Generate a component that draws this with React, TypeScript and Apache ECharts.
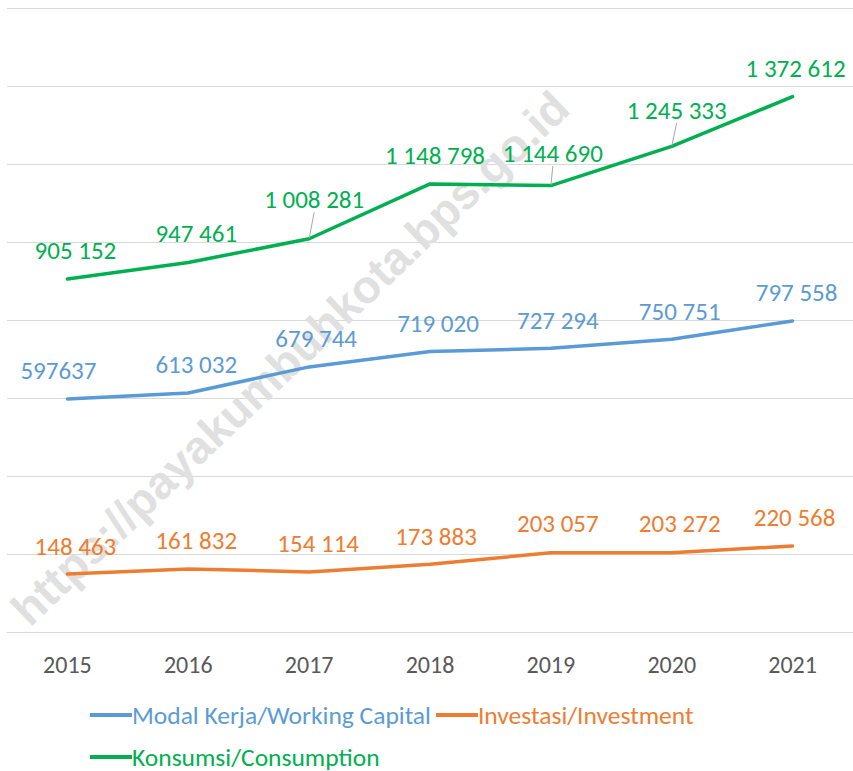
import React, { useEffect, useRef } from "react";
import * as echarts from "echarts";

const years = ["2015", "2016", "2017", "2018", "2019", "2020", "2021"];
const modalKerja = [597637, 613032, 679744, 719020, 727294, 750751, 797558];
const investasi = [148463, 161832, 154114, 173883, 203057, 203272, 220568];
const konsumsi = [905152, 947461, 1008281, 1148798, 1144690, 1245333, 1372612];

const modalLabels = ["597637", "613 032", "679 744", "719 020", "727 294", "750 751", "797 558"];
const investasiLabels = ["148 463", "161 832", "154 114", "173 883", "203 057", "203 272", "220 568"];
const konsumsiLabels = ["905 152", "947 461", "1 008 281", "1 148 798", "1 144 690", "1 245 333", "1 372 612"];

// label offsets (dx, extra dy) per point
const modalOffsets = [[-9, 0], [8, 0], [7, 0], [8, 0], [7, 0], [8, 0], [4, 0]];
const investasiOffsets = [[8, 0], [8, 0], [9, 0], [6, 0], [7, -1], [8, -1], [2, 0]];
const konsumsiOffsets = [[8, 0], [8, -1], [5, -11], [5, 0], [2, -4], [5, -8], [3, 0]];
const konsumsiLeader = [false, false, true, false, true, true, false];

const BLUE = "#5B9BD5";
const ORANGE = "#ED7D31";
const GREEN = "#00B050";
const FONT = "Carlito, 'Noto Sans', sans-serif";

export default function App() {
  const ref = useRef<HTMLDivElement>(null);
  useEffect(() => {
    if (!ref.current) return;
    const chart = echarts.init(ref.current, undefined, { renderer: "svg" });
    const offsets = [modalOffsets, investasiOffsets, konsumsiOffsets];
    const makeData = (vals: number[], labels: string[], leader?: boolean[]) =>
      vals.map((v, i) => ({
        value: v,
        label: { formatter: labels[i] },
        labelLine: { show: leader ? leader[i] : false },
      }));
    const series = [
      { name: "Modal Kerja/Working Capital", color: BLUE, data: makeData(modalKerja, modalLabels) },
      { name: "Investasi/Investment", color: ORANGE, data: makeData(investasi, investasiLabels) },
      { name: "Konsumsi/Consumption", color: GREEN, data: makeData(konsumsi, konsumsiLabels, konsumsiLeader) },
    ].map((s, si) => ({
      type: "line",
      name: s.name,
      data: s.data,
      symbol: "circle",
      symbolSize: 1,
      showSymbol: true,
      itemStyle: { color: s.color },
      lineStyle: { color: s.color, width: 3.5, cap: "round", join: "round" },
      label: {
        show: true,
        position: "top",
        distance: 15,
        color: s.color,
        fontSize: 25,
        fontFamily: FONT,
      },
      labelLine: { show: false, lineStyle: { color: "#A6A6A6", width: 1 } },
      labelLayout: (p: any) => {
        const o = offsets[si][p.dataIndex] || [0, 0];
        return { dx: o[0], dy: o[1] };
      },
      z: 3,
    }));

    const legendText = { fontSize: 25.5, fontFamily: FONT, padding: [0, 0, 0, -5] };

    chart.setOption({
      animation: false,
      backgroundColor: "#ffffff",
      grid: { left: 7, right: 0, top: 8, bottom: 139, containLabel: false },
      xAxis: {
        type: "category",
        data: years,
        boundaryGap: true,
        axisLine: { show: true, lineStyle: { color: "#D9D9D9", width: 1 } },
        axisTick: { show: false },
        axisLabel: { color: "#595959", fontSize: 24, fontFamily: FONT, margin: 20 },
      },
      yAxis: {
        type: "value",
        min: 0,
        max: 1600000,
        interval: 200000,
        axisLabel: { show: false },
        axisLine: { show: false },
        axisTick: { show: false },
        splitLine: { show: true, lineStyle: { color: "#D9D9D9", width: 1 } },
      },
      legend: [
        {
          left: 85,
          top: 697,
          icon: "rect",
          itemWidth: 42,
          itemHeight: 4,
          itemGap: 5,
          textStyle: legendText,
          data: [
            { name: "Modal Kerja/Working Capital", textStyle: { color: BLUE } },
            { name: "Investasi/Investment", textStyle: { color: ORANGE } },
          ],
        },
        {
          left: 85,
          top: 739,
          icon: "rect",
          itemWidth: 42,
          itemHeight: 4,
          itemGap: 5,
          textStyle: legendText,
          data: [{ name: "Konsumsi/Consumption", textStyle: { color: GREEN } }],
        },
      ],
      graphic: [
        {
          type: "text",
          x: 290,
          y: 358,
          rotation: (43.6 * Math.PI) / 180,
          z: 1,
          silent: true,
          style: {
            text: "https://payakumbuhkota.bps.go.id",
            fill: "#E0E0E0",
            font: "bold 46px 'Liberation Sans', Arial, sans-serif",
            textAlign: "center",
            textVerticalAlign: "middle",
          },
        },
      ],
      series,
    });
    return () => chart.dispose();
  }, []);
  return (
    <div
      ref={ref}
      style={{ position: "absolute", left: 0, top: 0, width: 853, height: 771 }}
    />
  );
}
